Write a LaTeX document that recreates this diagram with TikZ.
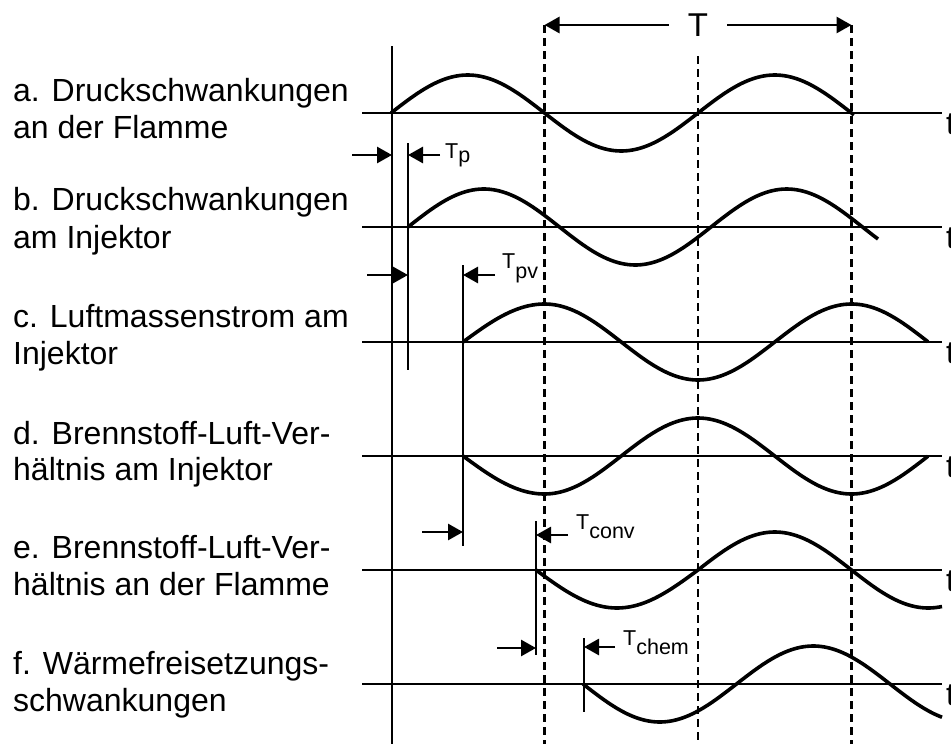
\documentclass[tikz,border=0pt]{standalone}
\usepackage{fontspec}
\setmainfont{Liberation Sans}
\usetikzlibrary{arrows.meta}

\tikzset{
  axisline/.style={line width=2.8pt},
  wave/.style={line width=3.6pt, line join=round},
  marker/.style={line width=2pt},
  periodline/.style={line width=2.3pt, dash pattern=on 8pt off 5pt},
  delay/.style={line width=2.8pt, -{Triangle[length=15pt,width=16pt]}},
  lbl/.style={anchor=base west, inner sep=0pt, font=\fontsize{32}{38}\selectfont},
  dlbl/.style={anchor=base west, inner sep=0pt, font=\fontsize{21.5}{24}\selectfont},
}
% subscript of the same size, lowered by #1
\newcommand{\dsub}[2]{\raisebox{-#1pt}{#2}}

\begin{document}
\begin{tikzpicture}[x=1pt, y=-1pt]
\useasboundingbox (0,0) rectangle (951,744);

% ---- row labels ----
\node[lbl] (la1) at (13,101) {a. Druckschwankungen};
\node[lbl] (la2) at (13,138) {an der Flamme};
\node[lbl] (lb1) at (13,210) {b. Druckschwankungen};
\node[lbl] (lb2) at (13,248) {am Injektor};
\node[lbl] (lc1) at (13,327) {c. Luftmassenstrom am};
\node[lbl] (lc2) at (13,364) {Injektor};
\node[lbl] (ld1) at (13,444) {d. Brennstoff-Luft-Ver-};
\node[lbl] (ld2) at (13,480) {hältnis am Injektor};
\node[lbl] (le1) at (13,558) {e. Brennstoff-Luft-Ver-};
\node[lbl] (le2) at (13,595) {hältnis an der Flamme};
\node[lbl] (lf1) at (13,674) {f. Wärmefreisetzungs-};
\node[lbl] (lf2) at (13,711) {schwankungen};

% ---- time axes with their t labels ----
\foreach \n/\y in {a/113, b/227, c/342, d/456, e/570, f/684} {
  \coordinate (ax\n) at (362,\y);
  \node[lbl] (t\n) at (946,\y+21) {t};
  \draw[axisline] (ax\n) -- (942,\y);
}

% ---- period markers ----
\coordinate (p0) at (544.5,25);
\coordinate (p1) at (698,56);
\coordinate (p2) at (851.5,25);
\draw[periodline] (p0) -- (544.5,744);
\draw[periodline] (p1) -- (698,744);
\draw[periodline] (p2) -- (851.5,744);
\node[font=\fontsize{33}{36}\selectfont, inner xsep=19pt, inner ysep=0pt] (Tper) at (698,25) {T};
\draw[delay] (Tper.west) -- (p0);
\draw[delay] (Tper.east) -- (p2);

% ---- signals (regular half period 153.5) ----
% a: pressure at the flame
\draw[wave] plot[domain=0:463, samples=140] ({391+\x},{113-38*sin(\x/153.5*180)});
% b: pressure at the injector
\draw[wave] plot[domain=0:470, samples=140] ({408+\x},{227-38*sin(\x/151.5*180)});
% c: air mass flow, first quarter stretched up to the peak at 544.5
\draw[wave] plot[domain=463:544.5, samples=30] (\x,{342-38*sin((\x-463)/81.5*90)})
         -- plot[domain=544.5:928, samples=120] (\x,{342-38*sin(90+(\x-544.5)/153.5*180)});
% d: fuel-air ratio at the injector
\draw[wave] plot[domain=463:544.5, samples=30] (\x,{456+38*sin((\x-463)/81.5*90)})
         -- plot[domain=544.5:928, samples=120] (\x,{456+38*sin(90+(\x-544.5)/153.5*180)});
% e: fuel-air ratio at the flame, first half stretched up to 698
\draw[wave] plot[domain=536:698, samples=50] (\x,{570+38*sin((\x-536)/162*180)})
         -- plot[domain=698:942, samples=80] (\x,{570+38*sin(180+(\x-698)/153.5*180)});
% f: heat release
\draw[wave] plot[domain=0:359, samples=120] ({583+\x},{684+38*sin(\x/153.5*180)});

% ---- delay markers ----
\coordinate (m0t) at (392,46);   \coordinate (m0b) at (392,744);
\coordinate (m1t) at (408,143);  \coordinate (m1b) at (408,370);
\coordinate (m2t) at (463,265);  \coordinate (m2b) at (463,546);
\coordinate (m3t) at (536,521);  \coordinate (m3b) at (536,655);
\coordinate (m4t) at (584,638);  \coordinate (m4b) at (584,712);
\draw[marker] (m0t) -- (m0b);
\draw[marker] (m1t) -- (m1b);
\draw[marker] (m2t) -- (m2b);
\draw[marker] (m3t) -- (m3b);
\draw[marker] (m4t) -- (m4b);

% tau_p
\coordinate (d1a) at (352,155); \coordinate (d1b) at (440,155);
\draw[delay] (d1a) -- (d1a -| m0t);
\draw[delay] (d1b) -- (d1b -| m1t);
\node[dlbl] (tp) at (445,158) {T\dsub{4}{p}};
% tau_pv
\coordinate (d2a) at (367,275); \coordinate (d2b) at (495,275);
\draw[delay] (d2a) -- (d2a -| m1t);
\draw[delay] (d2b) -- (d2b -| m2t);
\node[dlbl] (tpv) at (502,268) {T\dsub{10}{pv}};
% tau_conv
\coordinate (d3a) at (422,532); \coordinate (d3b) at (568,535);
\draw[delay] (d3a) -- (d3a -| m2t);
\draw[delay] (d3b) -- (d3b -| m3t);
\node[dlbl] (tconv) at (576,529) {T\dsub{9}{conv}};
% tau_chem
\coordinate (d4a) at (497,648); \coordinate (d4b) at (615,647);
\draw[delay] (d4a) -- (d4a -| m3t);
\draw[delay] (d4b) -- (d4b -| m4t);
\node[dlbl] (tchem) at (623,645) {T\dsub{9}{chem}};
\end{tikzpicture}
\end{document}
